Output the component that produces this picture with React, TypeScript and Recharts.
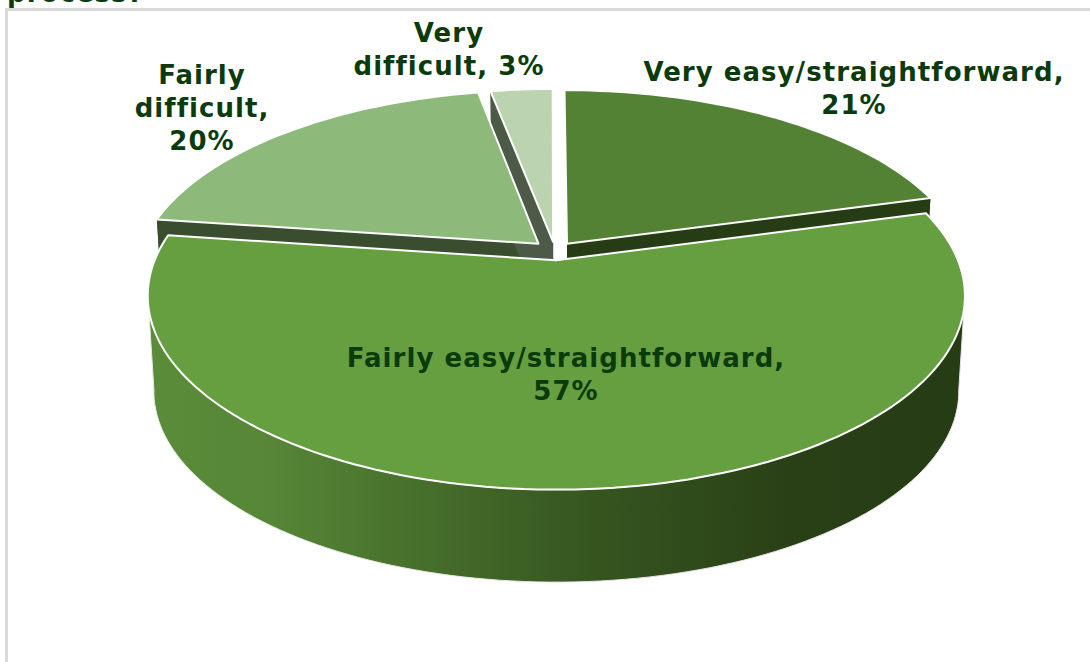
import React from "react";
import { PieChart, Pie } from "recharts";

// Drawing order runs from the back slices to the front one.
const categories = ["Fairly difficult", "Very difficult", "Very easy/straightforward", "Fairly easy/straightforward"];
const values = [20, 3, 21, 57];
const topColors = ["#8DB97B", "#BCD3B0", "#548235", "#669F40"];
const wallColors = ["#3A4D2E", "#4D5A48", "#263C14", "#263C14"];
const labelLines = [
  ["Fairly", "difficult,", "20%"],
  ["Very", "difficult, 3%"],
  ["Very easy/straightforward,", "21%"],
  ["Fairly easy/straightforward,", "57%"],
];
const data = categories.map((name, i) => ({ name, value: values[i] }));

// Layout constants
const W = 1090, H = 662;
const CX = 555, CY = 251, R = 398;
const TILT = 0.462, FOCAL = 5.5 * R;
const explodeBySlice = [23, 20, 20, 20];
const leadingWall = [true, true, false, true];
const BASE_SCALE = 0.985, BASE_DROP = 96;
const START = 172.1;
const labelAnchors = [
  { x: 202, y: 84 },
  { x: 449, y: 42 },
  { x: 854, y: 81 },
  { x: 566, y: 367 },
];
const FONT = "'DejaVu Sans', Verdana, sans-serif";
const TEXT = "#0B3B0B";

const rad = (d: number) => (d * Math.PI) / 180;
type P = [number, number];

function project(X: number, Y: number): P {
  const s = FOCAL / (FOCAL + Y);
  return [CX + X * s, CY - Y * TILT * s];
}
const toBase = ([x, y]: P): P => [CX + (x - CX) * BASE_SCALE, CY + (y - CY) * BASE_SCALE + BASE_DROP];
const pathOf = (pts: P[]) => "M" + pts.map((p) => `${p[0].toFixed(1)},${p[1].toFixed(1)}`).join("L") + "Z";

function geometry(props: any) {
  const { outerRadius, startAngle, endAngle, index } = props;
  const r = outerRadius ?? R;
  const mid = rad((startAngle + endAngle) / 2);
  const e = explodeBySlice[index] ?? 20;
  const ox = e * Math.cos(mid), oy = e * Math.sin(mid);
  const apex = project(ox, oy);
  const arc: P[] = [];
  const n = Math.max(8, Math.ceil(Math.abs(endAngle - startAngle) / 1.5));
  for (let i = 0; i <= n; i++) {
    const a = rad(startAngle + ((endAngle - startAngle) * i) / n);
    arc.push(project(ox + r * Math.cos(a), oy + r * Math.sin(a)));
  }
  return { apex, arc };
}

function SliceWall(props: any) {
  const { index } = props;
  const { apex, arc } = geometry(props);
  const first = arc[0], last = arc[arc.length - 1];
  const wall = wallColors[index] ?? "#333";
  const isFront = index === values.length - 1;
  let outerPath: string;
  if (isFront) {
    // Silhouette of the front wall: from the widest top points to the widest base points.
    let iL = 0, iR = 0;
    arc.forEach((p, i) => {
      if (p[0] < arc[iL][0]) iL = i;
      if (p[0] > arc[iR][0]) iR = i;
    });
    const a = Math.min(iL, iR), b = Math.max(iL, iR);
    const span = arc.slice(a, b + 1);
    outerPath = pathOf([...span, ...span.map(toBase).reverse()]);
  } else {
    const span = leadingWall[index] ? arc : arc.slice(Math.floor(arc.length / 2));
    outerPath = pathOf([...span, ...span.map(toBase).reverse()]);
  }
  return (
    <g>
      {isFront && (
        <defs>
          <linearGradient id="frontWall" gradientUnits="userSpaceOnUse" x1={150} y1={0} x2={960} y2={0}>
            <stop offset="0" stopColor="#5A8C39" />
            <stop offset="0.15" stopColor="#568636" />
            <stop offset="0.35" stopColor="#456D2B" />
            <stop offset="0.55" stopColor="#35551F" />
            <stop offset="0.8" stopColor="#293F16" />
            <stop offset="1" stopColor="#263C14" />
          </linearGradient>
        </defs>
      )}
      {leadingWall[index] && <path d={pathOf([apex, first, toBase(first), toBase(apex)])} fill={wall} />}
      <path d={pathOf([apex, last, toBase(last), toBase(apex)])} fill={wall} />
      <path d={outerPath} fill={isFront ? "url(#frontWall)" : wall} stroke="#E6E6E6" strokeWidth={isFront ? 1 : 0} />
    </g>
  );
}

function SliceTop(props: any) {
  const { index } = props;
  const { apex, arc } = geometry(props);
  return <path d={pathOf([apex, ...arc])} fill={topColors[index]} stroke="#fff" strokeWidth={2} strokeLinejoin="round" />;
}

function SliceLabel(props: any) {
  const { index } = props;
  const anchor = labelAnchors[index];
  return (
    <text
      x={anchor.x}
      y={anchor.y}
      textAnchor="middle"
      fontFamily={FONT}
      fontWeight="bold"
      fontSize={26}
      letterSpacing={1.05}
      fill={TEXT}
    >
      {labelLines[index].map((line, i) => (
        <tspan key={i} x={anchor.x} dy={i === 0 ? 0 : 33}>
          {line}
        </tspan>
      ))}
    </text>
  );
}

const pieProps = {
  data,
  dataKey: "value",
  nameKey: "name",
  cx: CX,
  cy: CY,
  innerRadius: 0,
  outerRadius: R,
  startAngle: START,
  endAngle: START - 360,
  paddingAngle: 0,
  isAnimationActive: false,
};

export default function App() {
  return (
    <div style={{ position: "absolute", left: 0, top: 0, width: W, height: H, background: "#fff", overflow: "hidden" }}>
      <div
        style={{
          position: "absolute",
          left: 5,
          top: 8,
          width: W,
          height: H,
          borderTop: "3px solid #D9D9D9",
          borderLeft: "3px solid #D9D9D9",
        }}
      />
      <div
        style={{
          position: "absolute",
          left: 7,
          top: -23,
          fontFamily: FONT,
          fontWeight: "bold",
          fontSize: 26,
          letterSpacing: 1.05,
          color: TEXT,
          lineHeight: "33px",
        }}
      >
        process?
      </div>
      <div style={{ position: "absolute", left: 0, top: 0 }}>
        <PieChart width={W} height={H} margin={{ top: 0, right: 0, bottom: 0, left: 0 }}>
          <Pie {...pieProps} shape={SliceWall} label={false} labelLine={false} />
          <Pie {...pieProps} shape={SliceTop} label={SliceLabel} labelLine={false} />
        </PieChart>
      </div>
    </div>
  );
}
